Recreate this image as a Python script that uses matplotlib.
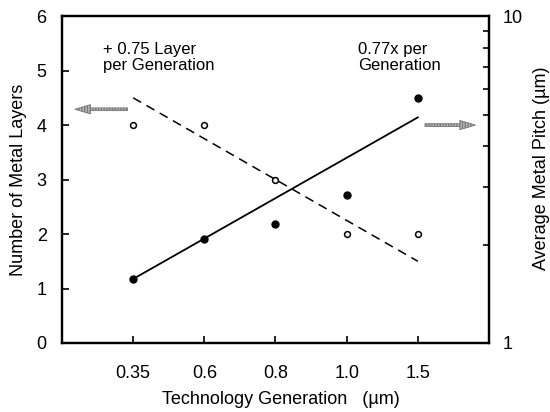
import matplotlib
matplotlib.use("Agg")
import matplotlib.pyplot as plt
from matplotlib.patches import FancyArrow
from matplotlib.ticker import FixedLocator, NullFormatter

plt.rcParams['font.family'] = ['Liberation Sans', 'DejaVu Sans']

categories = ["0.35", "0.6", "0.8", "1.0", "1.5"]
metal_layers = [4.0, 4.0, 3.0, 2.0, 2.0]
metal_pitch = [1.57, 2.08, 2.31, 2.84, 5.6]
layers_fit_ends = [4.5, 1.5]
pitch_fit_ends = [1.57, 4.9]

fig = plt.figure(figsize=(5.5, 4.12), dpi=100)
ax = fig.add_axes([0.1127, 0.1675, 0.7764, 0.7934])
ax2 = ax.twinx()

pos = list(range(1, len(categories) + 1))
ends = [pos[0], pos[-1]]

ax.plot(pos, metal_layers, linestyle='none', marker='o', markersize=4.2,
        markerfacecolor='white', markeredgecolor='black', markeredgewidth=1.1, zorder=3)
ax.plot(ends, layers_fit_ends, color='black', linestyle=(0, (6, 4)), linewidth=1.1)

ax2.set_yscale('log')
ax2.plot(pos, metal_pitch, linestyle='none', marker='o', markersize=5,
         color='black', zorder=3)
ax2.plot(ends, pitch_fit_ends, color='black', linewidth=1.3)

ax.set_xlim(0, 6)
ax.set_ylim(0, 6)
ax2.set_ylim(1, 10)

ax.set_xticks(pos)
ax.set_xticklabels(categories)
ax.set_yticks(range(0, 7))

for s in ax.spines.values():
    s.set_linewidth(1.6)
for s in ax2.spines.values():
    s.set_linewidth(1.6)

fs = 13
ax.tick_params(axis='both', direction='in', length=5, width=1.2, labelsize=fs, pad=11)
ax.tick_params(axis='x', pad=16)
ax2.yaxis.set_major_locator(FixedLocator([1, 10]))
ax2.yaxis.set_minor_locator(FixedLocator([2, 3, 4, 5, 6, 7, 8, 9]))
ax2.yaxis.set_minor_formatter(NullFormatter())
ax2.set_yticklabels(['1', '10'])
ax2.tick_params(axis='y', which='major', direction='in', length=5, width=1.2, labelsize=fs, pad=10)
ax2.tick_params(axis='y', which='minor', direction='in', length=4, width=1.2)

ax.set_ylabel('Number of Metal Layers', fontsize=fs, va='center')
ax.yaxis.set_label_coords(-0.1007, 0.5)
ax2.set_ylabel('Average Metal Pitch (\u00b5m)', fontsize=fs, va='center')
ax2.yaxis.set_label_coords(1.124, 0.535)
ax.set_xlabel('Technology Generation   (\u00b5m)', fontsize=fs, va='center')
ax.xaxis.set_label_coords(0.513, -0.172)

ax.text(0.58, 5.53, '+ 0.75 Layer\nper Generation', fontsize=12, va='top', ha='left', linespacing=1.1)
ax.text(4.16, 5.53, '0.77x per\nGeneration', fontsize=12, va='top', ha='left', linespacing=1.1)

arrow_kw = dict(width=0.05, head_width=0.17, head_length=0.22, length_includes_head=True,
                facecolor='#bdbdbd', edgecolor='#777777', linewidth=0.6, hatch='||||||')
ax.add_patch(FancyArrow(0.92, 4.29, -0.74, 0, **arrow_kw))
ax.add_patch(FancyArrow(5.1, 4.0, 0.71, 0, **arrow_kw))

fig.savefig('out.png', dpi=100)
